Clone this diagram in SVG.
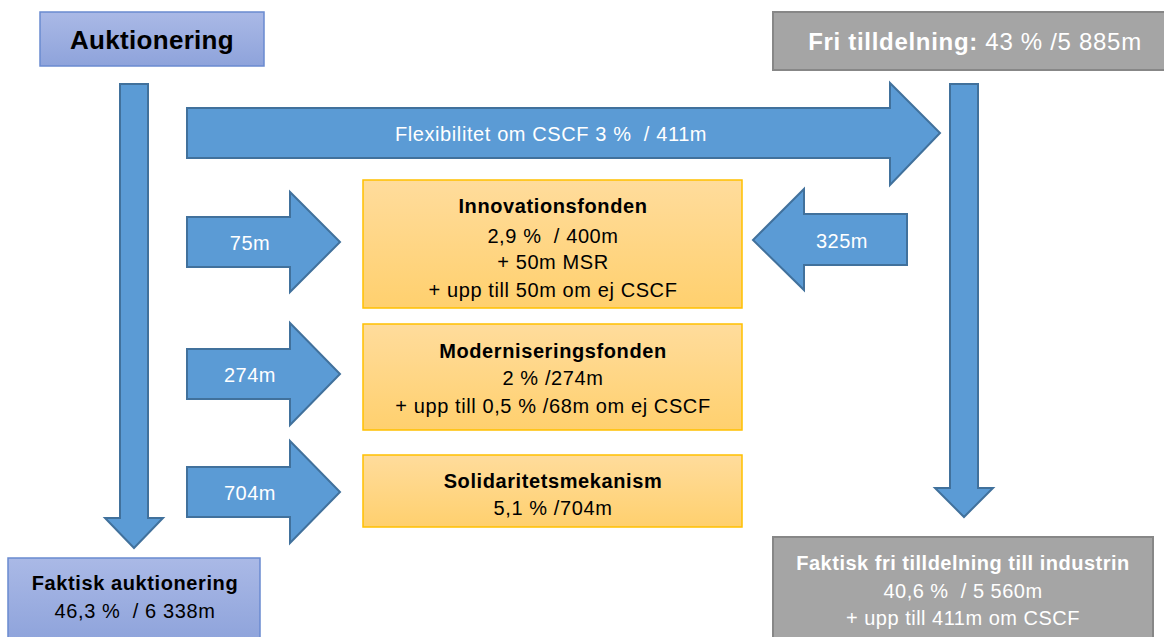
<svg xmlns="http://www.w3.org/2000/svg" width="1164" height="637" viewBox="0 0 1164 637">
<defs>
<linearGradient id="gBlue" x1="0" y1="0" x2="0" y2="1"><stop offset="0" stop-color="#aab9e6"/><stop offset="1" stop-color="#8ea3db"/></linearGradient>
<linearGradient id="gYel" x1="0" y1="0" x2="0" y2="1"><stop offset="0" stop-color="#ffdc9c"/><stop offset="1" stop-color="#ffd06e"/></linearGradient>
<style>
.arr{fill:#5b9bd5;stroke:#41719c;stroke-width:2;stroke-linejoin:miter}
.bbox{fill:url(#gBlue);stroke:#6a8ad0;stroke-width:1.5}
.gbox{fill:#a5a5a5;stroke:#878787;stroke-width:2}
.ybox{fill:url(#gYel);stroke:#ffc000;stroke-width:1.5}
text{font-family:"Liberation Sans",Arial,sans-serif;text-anchor:middle}
.w{fill:#ffffff}
.k{fill:#000000}
.b{font-weight:bold}
.s20{font-size:20px;letter-spacing:0.6px}
.s20a{font-size:20px;letter-spacing:0.5px}
.s24{font-size:24px;letter-spacing:0.7px}
.s26{font-size:26px;letter-spacing:0.3px}
</style>
</defs>
<rect width="1164" height="637" fill="#ffffff"/>
<g id="connectors">
<polygon class="arr" points="120,84 148,84 148,518 163,518 134,548 105,518 120,518"/>
<polygon class="arr" points="950,84 978,84 978,488 993,488 964,517 935,488 950,488"/>
<polygon class="arr" points="187,108 890,108 890,83 940,133 890,185 890,158 187,158"/>
<polygon class="arr" points="187,217 290,217 290,192 340,242 290,292 290,267 187,267"/>
<polygon class="arr" points="907,214 804,214 804,189 753,240 804,290 804,265 907,265"/>
<polygon class="arr" points="187,349 290,349 290,323 340,374 290,425 290,399 187,399"/>
<polygon class="arr" points="187,467 290,467 290,441 340,492 290,543 290,517 187,517"/>
<text class="w s20" x="551" y="141" xml:space="preserve">Flexibilitet om CSCF 3 %  / 411m</text>
<text class="w s20a" x="250" y="250">75m</text>
<text class="w s20a" x="842" y="248">325m</text>
<text class="w s20a" x="250" y="382">274m</text>
<text class="w s20a" x="250" y="500">704m</text>
</g>
<g id="auktionering">
<rect class="bbox" x="40" y="12" width="224" height="54"/>
<text class="k b s26" x="152" y="49">Auktionering</text>
</g>
<g id="fri-tilldelning">
<rect class="gbox" x="773" y="12" width="400" height="58"/>
<text class="w s24" x="975" y="50"><tspan class="b">Fri tilldelning:</tspan> 43 % /5 885m</text>
</g>
<g id="innovationsfonden">
<rect class="ybox" x="363" y="180" width="379" height="128"/>
<text class="k b s20" x="553" y="213">Innovationsfonden</text>
<text class="k s20" x="553" y="243" xml:space="preserve">2,9 %  / 400m</text>
<text class="k s20" x="553" y="269">+ 50m MSR</text>
<text class="k s20" x="553" y="297">+ upp till 50m om ej CSCF</text>
</g>
<g id="moderniseringsfonden">
<rect class="ybox" x="363" y="324" width="379" height="106"/>
<text class="k b s20" x="553" y="358">Moderniseringsfonden</text>
<text class="k s20" x="553" y="385">2 % /274m</text>
<text class="k s20" x="553" y="413">+ upp till 0,5 % /68m om ej CSCF</text>
</g>
<g id="solidaritetsmekanism">
<rect class="ybox" x="363" y="455" width="379" height="72"/>
<text class="k b s20" x="553" y="488">Solidaritetsmekanism</text>
<text class="k s20" x="553" y="515">5,1 % /704m</text>
</g>
<g id="faktisk-auktionering">
<rect class="bbox" x="8" y="558" width="252" height="84"/>
<text class="k b s20" x="135" y="590">Faktisk auktionering</text>
<text class="k s20" x="135" y="618" xml:space="preserve">46,3 %  / 6 338m</text>
</g>
<g id="faktisk-fri-tilldelning">
<rect class="gbox" x="773" y="537" width="380" height="105"/>
<text class="w b s20a" x="963" y="570">Faktisk fri tilldelning till industrin</text>
<text class="w s20a" x="963" y="598" xml:space="preserve">40,6 %  / 5 560m</text>
<text class="w s20a" x="963" y="625">+ upp till 411m om CSCF</text>
</g>
</svg>
